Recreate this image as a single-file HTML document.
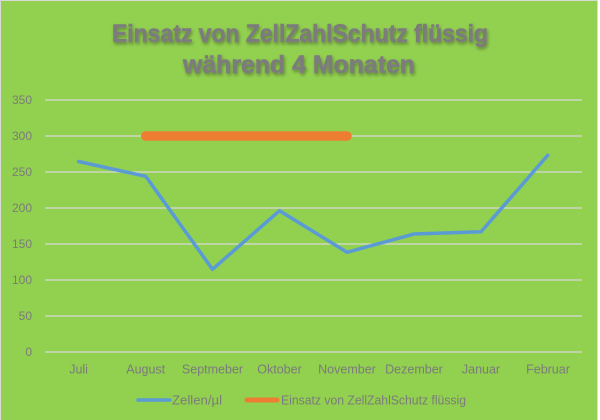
<!DOCTYPE html>
<html><head><meta charset="utf-8">
<style>
html,body{margin:0;padding:0;background:#fff;}
svg{display:block;}
text{font-family:"Liberation Sans",sans-serif;}
</style></head>
<body>
<svg width="600" height="420" viewBox="0 0 600 420" xmlns="http://www.w3.org/2000/svg">
<defs>
<filter id="sh" x="-10%" y="-30%" width="120%" height="160%">
<feDropShadow dx="1" dy="2" stdDeviation="1.5" flood-color="#000" flood-opacity="0.35"/>
</filter>
</defs>
<rect x="0" y="0" width="598" height="420" fill="#92D050"/>
<rect x="0.5" y="0.5" width="597" height="425" fill="none" stroke="#d9d9d9" stroke-width="1"/>
<!-- title -->
<g filter="url(#sh)" fill="#7b7b7b" stroke="#7b7b7b" stroke-width="0.6" font-weight="bold" font-size="25">
<text x="112" y="42" textLength="376" lengthAdjust="spacingAndGlyphs">Einsatz von ZellZahlSchutz flüssig</text>
<text x="183" y="73" textLength="232" lengthAdjust="spacingAndGlyphs">während 4 Monaten</text>
</g>
<!-- grid -->
<g stroke="#d9d9d9" stroke-width="1.3">
<line x1="45" x2="582" y1="100" y2="100"/>
<line x1="45" x2="582" y1="136" y2="136"/>
<line x1="45" x2="582" y1="172" y2="172"/>
<line x1="45" x2="582" y1="208" y2="208"/>
<line x1="45" x2="582" y1="244" y2="244"/>
<line x1="45" x2="582" y1="280" y2="280"/>
<line x1="45" x2="582" y1="316" y2="316"/>
<line x1="45" x2="582" y1="352" y2="352"/>
</g>
<!-- y labels -->
<g fill="#7b7b7b" font-size="12" text-anchor="end">
<text x="32" y="104">350</text>
<text x="32" y="140">300</text>
<text x="32" y="176">250</text>
<text x="32" y="212">200</text>
<text x="32" y="248">150</text>
<text x="32" y="284">100</text>
<text x="32" y="320">50</text>
<text x="32" y="356">0</text>
</g>
<!-- x labels -->
<g fill="#7b7b7b" font-size="12.5" text-anchor="middle">
<text x="78.6" y="373.5">Juli</text>
<text x="145.7" y="373.5">August</text>
<text x="212.5" y="373.5">Septmeber</text>
<text x="279.5" y="373.5">Oktober</text>
<text x="347" y="373.5">November</text>
<text x="414" y="373.5">Dezember</text>
<text x="481" y="373.5">Januar</text>
<text x="548" y="373.5">Februar</text>
</g>
<!-- series -->
<polyline fill="none" stroke="#5B9BD5" stroke-width="3.5" stroke-linejoin="round" stroke-linecap="round"
 points="78.6,161.5 145.7,176.3 212.5,269.3 279.5,210.7 347,252.3 414,234 481,231.8 547.7,155.3"/>
<line x1="145.7" y1="136" x2="347" y2="136" stroke="#ED7D31" stroke-width="9.5" stroke-linecap="round"/>
<!-- legend -->
<line x1="138" y1="400" x2="170" y2="400" stroke="#5B9BD5" stroke-width="3.5" stroke-linecap="round"/>
<text x="172" y="404.5" fill="#7b7b7b" font-size="12.5" textLength="50" lengthAdjust="spacingAndGlyphs">Zellen/µl</text>
<line x1="247" y1="400" x2="277" y2="400" stroke="#ED7D31" stroke-width="5" stroke-linecap="round"/>
<text x="281" y="404.5" fill="#7b7b7b" font-size="12.5" textLength="185" lengthAdjust="spacingAndGlyphs">Einsatz von ZellZahlSchutz flüssig</text>
</svg>
</body></html>
